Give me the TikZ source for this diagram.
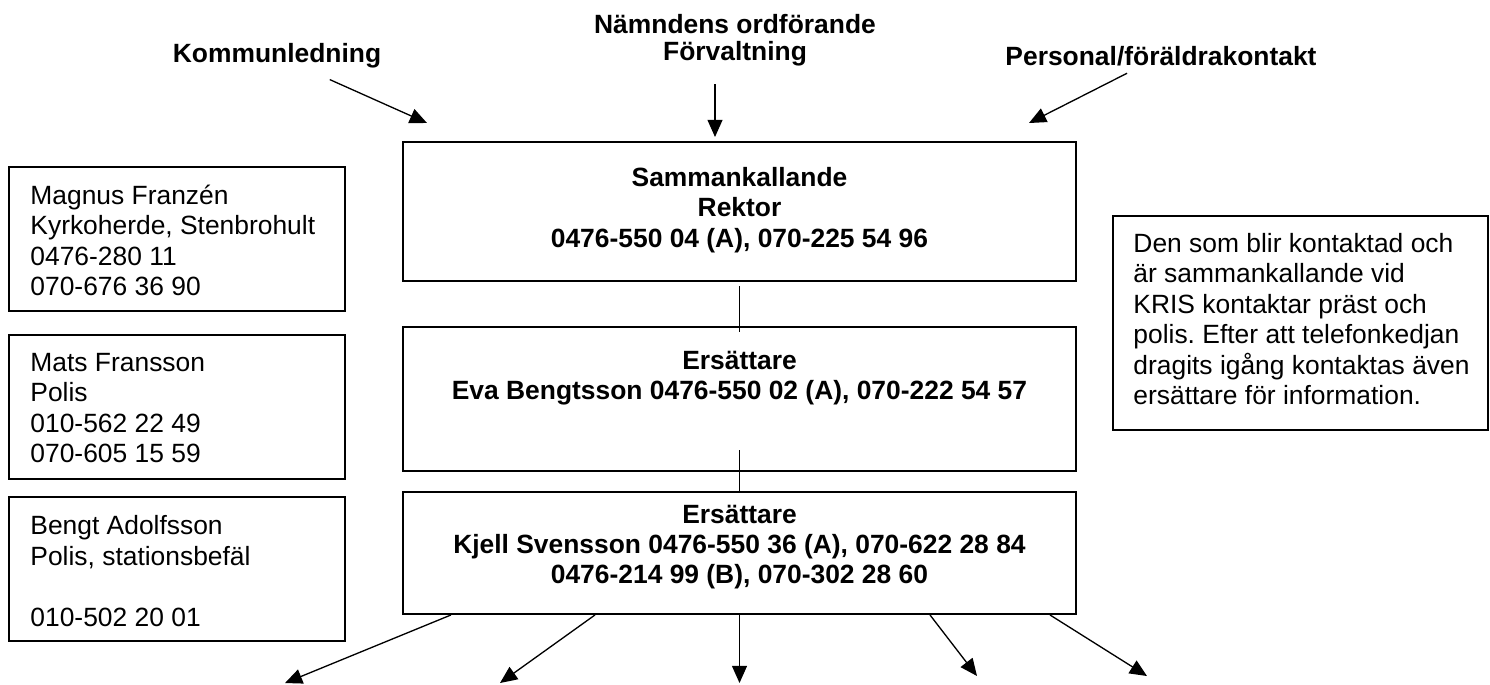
\documentclass[tikz,border=0pt]{standalone}
\usepackage{fontspec}
\setmainfont{Liberation Sans}
\usetikzlibrary{arrows.meta,calc}
\frenchspacing

\begin{document}
\begin{tikzpicture}[x=0.4545pt,y=-0.4545pt]
\tikzstyle{every node}+=[inner sep=0pt, font=\fontsize{12}{13.8}\selectfont]
\tikzstyle{fett}=[font=\fontsize{12}{13.8}\selectfont\bfseries, align=center]
\tikzstyle{ruta}=[draw=black, line width=0.9pt]
\tikzstyle{pil}=[-{Triangle[length=7.8pt,width=6.8pt]}, line width=0.6pt]
\tikzstyle{streck}=[line width=0.5pt]
\useasboundingbox (0,0) rectangle (1490,684);
% rubriker
\node [fett] (kom) at (277,56) {Kommunledning};
\node [fett, font=\fontsize{12}{12.5}\selectfont\bfseries] (namnd) at (735,40) {Nämndens ordförande\\Förvaltning};
\node [fett] (pers) at (1161,56) {Personal/föräldrakontakt};
\coordinate (komspets) at (427,123);
\coordinate (namndspets) at (715,137);
\coordinate (persspets) at (1029,123);
\draw [pil, shorten <=12pt] (kom) -- (komspets);
\draw [pil, shorten <=8pt] ($(namnd.south)+(-20,0)$) -- (namndspets);
\draw [pil, shorten <=7pt] (pers) -- (persspets);
% mittkolumn
\node [ruta, minimum width=305.9pt, minimum height=63.2pt] (rektor) at (739.5,211.5) {};
\node [fett] (rektortxt) at (739.5,210) {Sammankallande\\Rektor\\0476-550 04 (A), 070-225 54 96};
\node [ruta, minimum width=305.9pt, minimum height=65.5pt] (ers1) at (739.5,399) {};
\node [fett] (ers1txt) at (739.5,378) {Ersättare\\Eva Bengtsson 0476-550 02 (A), 070-222 54 57};
\node [ruta, minimum width=305.9pt, minimum height=55.4pt] (ers2) at (739.5,553) {};
\node [fett] (ers2txt) at (739.5,547) {Ersättare\\Kjell Svensson 0476-550 36 (A), 070-622 28 84\\0476-214 99 (B), 070-302 28 60};
\draw [streck] ($(rektor.south)+(0,4)$) -- ($(ers1.north)+(0,6)$);
\draw [streck] ($(ers1.south)+(0,-22)$) -- (ers2.north);
% vänster kolumn
\node [ruta, minimum width=152.7pt, minimum height=65.5pt] (magnus) at (177,239) {};
\node [anchor=west, align=left] (magnustxt) at (30,240.5) {Magnus Franzén\\Kyrkoherde, Stenbrohult\\0476-280 11\\070-676 36 90};
\node [ruta, minimum width=152.7pt, minimum height=65.5pt] (mats) at (177,407) {};
\node [anchor=west, align=left] (matstxt) at (30,408) {Mats Fransson\\Polis\\010-562 22 49\\070-605 15 59};
\node [ruta, minimum width=152.7pt, minimum height=65.5pt] (bengt) at (177,569) {};
\node [anchor=west, align=left] (bengttxt) at (30,571) {Bengt Adolfsson\\Polis, stationsbefäl\\\mbox{}\\010-502 20 01};
% höger ruta
\node [ruta, minimum width=170.4pt, minimum height=97.3pt] (info) at (1300.5,323) {};
\node [anchor=west, align=left] (infotxt) at (1133,319) {Den som blir kontaktad och\\är sammankallande vid\\KRIS kontaktar präst och\\polis. Efter att telefonkedjan\\dragits igång kontaktas även\\ersättare för information.};
% pilar nedåt
\coordinate (ned1) at (285,683);
\coordinate (ned2) at (500,683);
\coordinate (ned3) at (739.5,683);
\coordinate (ned4) at (977,676);
\coordinate (ned5) at (1147,676);
\draw [pil] ($(ers2.south west)+(49,0)$) -- (ned1);
\draw [pil] ($(ers2.south west)+(193,0)$) -- (ned2);
\draw [pil] (ers2.south) -- (ned3);
\draw [pil] ($(ers2.south west)+(528,0)$) -- (ned4);
\draw [pil] ($(ers2.south west)+(648,0)$) -- (ned5);
\end{tikzpicture}
\end{document}
